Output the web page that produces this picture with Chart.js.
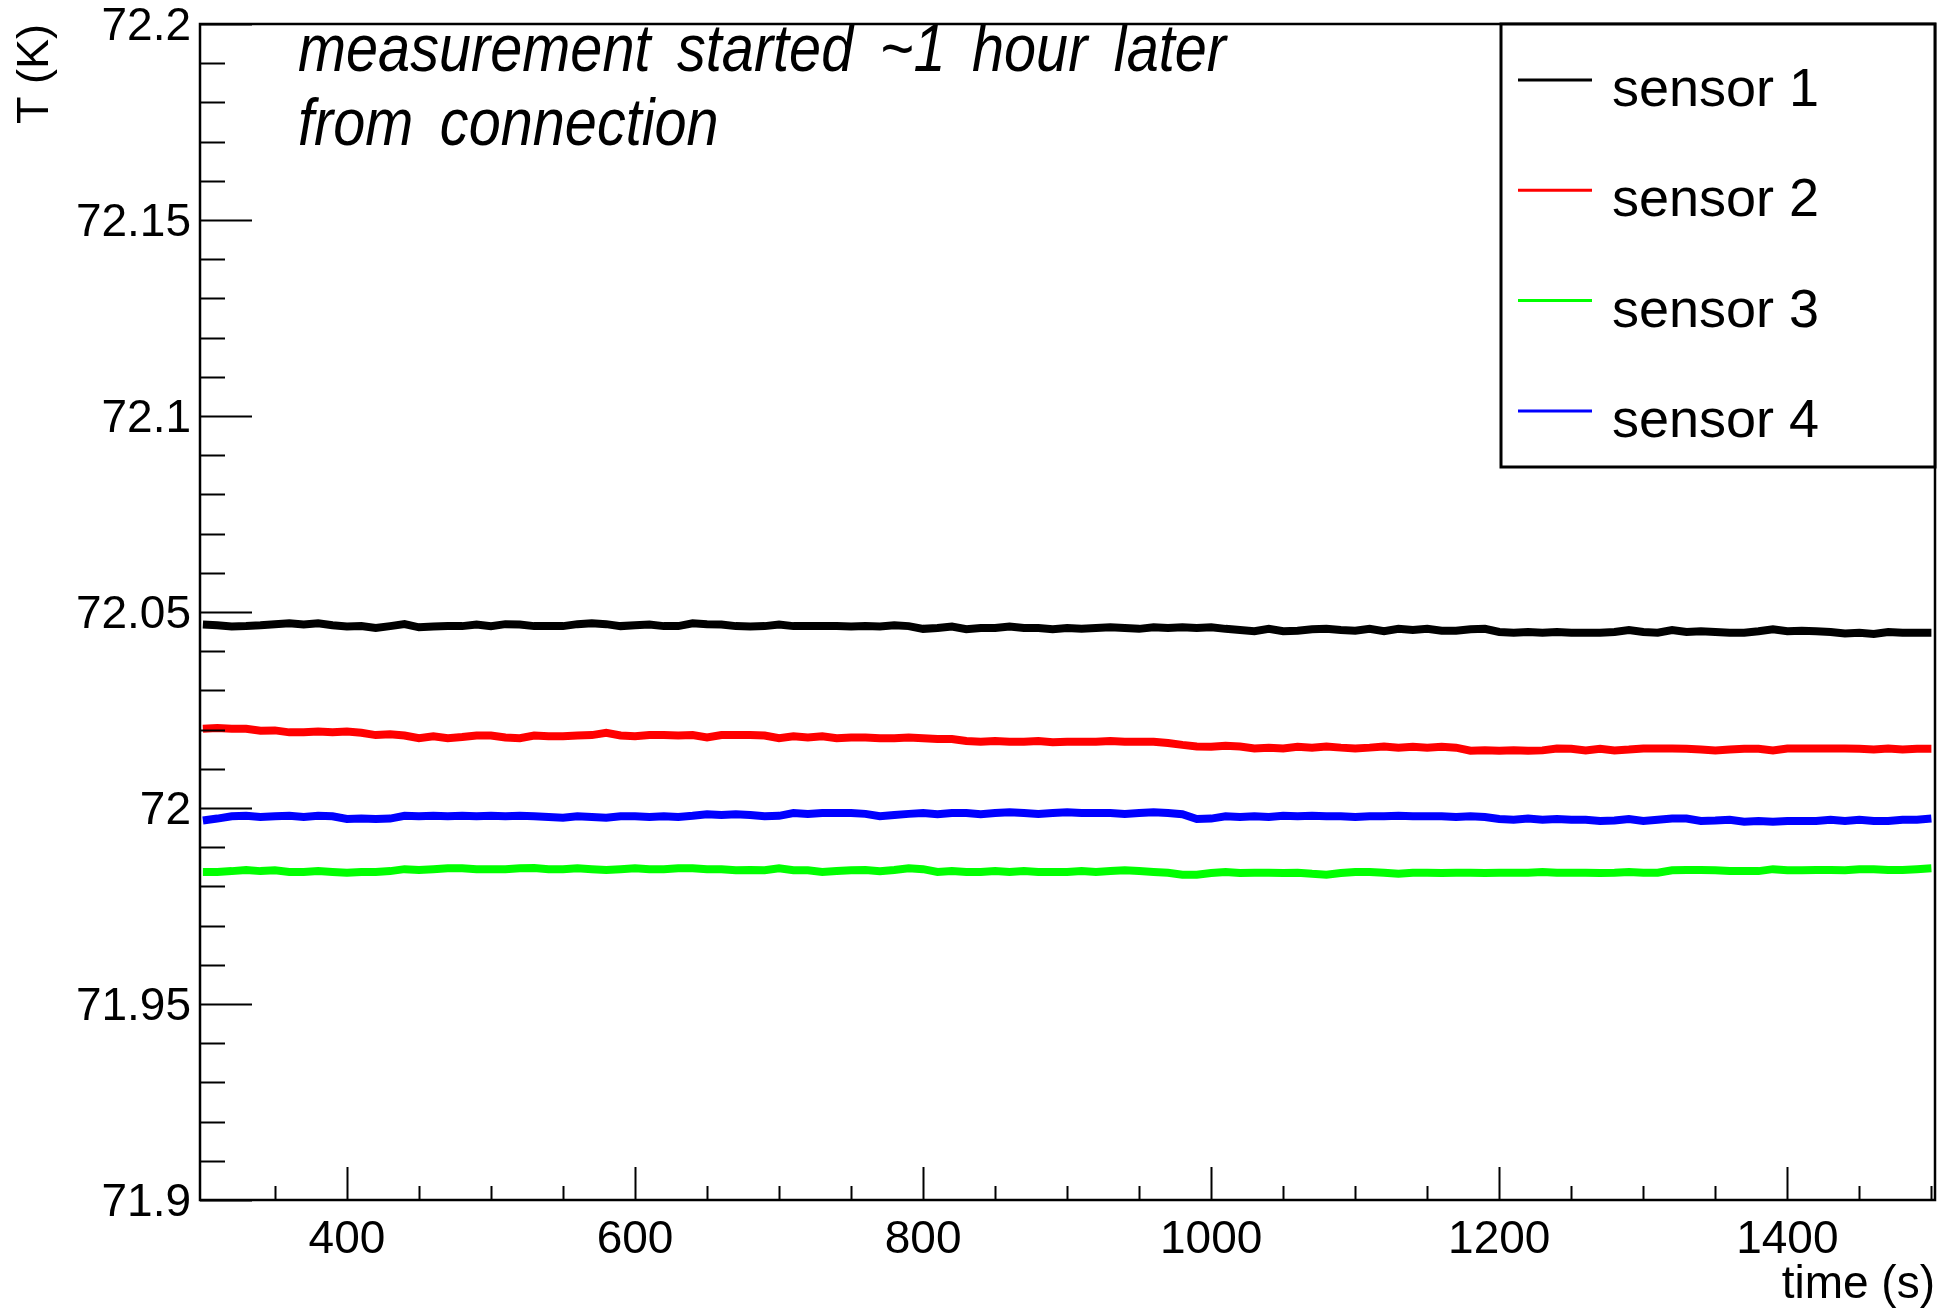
<!DOCTYPE html>
<html>
<head>
<meta charset="utf-8">
<script src="https://cdn.jsdelivr.net/npm/chart.js@4.4.1/dist/chart.umd.min.js"></script>
<style>
html,body{margin:0;padding:0;background:#ffffff;}
#wrap{width:1950px;height:1308px;position:relative;background:#ffffff;}
</style>
</head>
<body>
<div id="wrap"><canvas id="c" width="1950" height="1308"></canvas></div>
<script>
// ---- data ----
const times = [300,310,320,330,340,350,360,370,380,390,400,410,420,430,440,450,460,470,480,490,500,510,520,530,
540,550,560,570,580,590,600,610,620,630,640,650,660,670,680,690,700,710,720,730,740,750,760,770,
780,790,800,810,820,830,840,850,860,870,880,890,900,910,920,930,940,950,960,970,980,990,1000,1010,
1020,1030,1040,1050,1060,1070,1080,1090,1100,1110,1120,1130,1140,1150,1160,1170,1180,1190,1200,1210,1220,1230,1240,1250,
1260,1270,1280,1290,1300,1310,1320,1330,1340,1350,1360,1370,1380,1390,1400,1410,1420,1430,1440,1450,1460,1470,1480,1490,1500];

const sensor1 = [72.0468,72.0466,72.0463,72.0464,72.0466,72.0469,72.0471,72.0468,72.0471,72.0466,72.0463,72.0464,72.0459,72.0464,72.0469,72.0461,72.0463,72.0464,72.0464,72.0468,72.0464,72.0469,72.0468,72.0464,
72.0464,72.0464,72.0469,72.0471,72.0469,72.0464,72.0466,72.0468,72.0464,72.0464,72.0471,72.0469,72.0468,72.0464,72.0463,72.0464,72.0468,72.0464,72.0464,72.0464,72.0464,72.0463,72.0464,72.0463,
72.0466,72.0464,72.0457,72.0459,72.0463,72.0456,72.0459,72.0459,72.0463,72.0459,72.0459,72.0456,72.0459,72.0457,72.0459,72.0461,72.0459,72.0457,72.0461,72.0459,72.0461,72.0459,72.0461,72.0457,
72.0454,72.0451,72.0457,72.0451,72.0452,72.0456,72.0457,72.0454,72.0452,72.0457,72.0451,72.0457,72.0454,72.0457,72.0452,72.0452,72.0456,72.0457,72.0449,72.0447,72.0449,72.0447,72.0449,72.0447,
72.0447,72.0447,72.0449,72.0454,72.0449,72.0447,72.0454,72.0449,72.0451,72.0449,72.0447,72.0447,72.0451,72.0456,72.0451,72.0452,72.0451,72.0449,72.0445,72.0447,72.0444,72.0449,72.0447,72.0447,72.0447];

const sensor2 = [72.0202,72.0204,72.0202,72.0202,72.0197,72.0198,72.0193,72.0193,72.0195,72.0193,72.0195,72.0192,72.0186,72.0188,72.0185,72.0178,72.0183,72.0178,72.0181,72.0185,72.0185,72.0180,72.0178,72.0185,
72.0183,72.0183,72.0185,72.0186,72.0192,72.0185,72.0183,72.0186,72.0186,72.0185,72.0186,72.0180,72.0186,72.0186,72.0186,72.0185,72.0178,72.0183,72.0180,72.0183,72.0178,72.0180,72.0180,72.0178,
72.0178,72.0180,72.0178,72.0176,72.0176,72.0171,72.0169,72.0171,72.0169,72.0169,72.0171,72.0168,72.0169,72.0169,72.0169,72.0171,72.0169,72.0169,72.0169,72.0166,72.0161,72.0157,72.0156,72.0159,
72.0157,72.0152,72.0154,72.0152,72.0156,72.0154,72.0157,72.0154,72.0152,72.0154,72.0157,72.0154,72.0156,72.0154,72.0156,72.0154,72.0146,72.0147,72.0146,72.0147,72.0146,72.0147,72.0152,72.0151,
72.0147,72.0151,72.0147,72.0149,72.0152,72.0152,72.0152,72.0151,72.0149,72.0147,72.0149,72.0151,72.0151,72.0147,72.0152,72.0152,72.0152,72.0152,72.0152,72.0151,72.0149,72.0152,72.0149,72.0151,72.0151];

const sensor3 = [71.9837,71.9837,71.9839,71.9842,71.9839,71.9841,71.9837,71.9837,71.9839,71.9837,71.9835,71.9837,71.9837,71.9839,71.9844,71.9842,71.9844,71.9846,71.9846,71.9844,71.9844,71.9844,71.9846,71.9847,
71.9844,71.9844,71.9846,71.9844,71.9842,71.9844,71.9846,71.9844,71.9844,71.9846,71.9846,71.9844,71.9844,71.9841,71.9842,71.9841,71.9846,71.9841,71.9841,71.9837,71.9839,71.9841,71.9842,71.9839,
71.9842,71.9846,71.9844,71.9837,71.9839,71.9837,71.9837,71.9839,71.9837,71.9839,71.9837,71.9837,71.9837,71.9839,71.9837,71.9839,71.9841,71.9839,71.9837,71.9835,71.9830,71.9830,71.9834,71.9837,
71.9834,71.9835,71.9835,71.9834,71.9835,71.9832,71.9830,71.9834,71.9837,71.9837,71.9835,71.9832,71.9835,71.9835,71.9834,71.9835,71.9835,71.9834,71.9835,71.9835,71.9835,71.9837,71.9835,71.9835,
71.9835,71.9834,71.9835,71.9837,71.9835,71.9835,71.9841,71.9842,71.9842,71.9841,71.9839,71.9839,71.9839,71.9844,71.9841,71.9841,71.9842,71.9842,71.9841,71.9844,71.9844,71.9842,71.9842,71.9844,71.9846];

const sensor4 = [71.9968,71.9973,71.9979,71.9980,71.9977,71.9979,71.9980,71.9977,71.9980,71.9979,71.9972,71.9973,71.9972,71.9973,71.9980,71.9979,71.9980,71.9979,71.9980,71.9979,71.9980,71.9979,71.9980,71.9979,
71.9977,71.9975,71.9979,71.9977,71.9975,71.9979,71.9979,71.9977,71.9979,71.9977,71.9980,71.9984,71.9982,71.9984,71.9982,71.9979,71.9980,71.9987,71.9985,71.9987,71.9987,71.9987,71.9985,71.9979,
71.9982,71.9985,71.9987,71.9984,71.9987,71.9987,71.9984,71.9987,71.9989,71.9987,71.9985,71.9987,71.9989,71.9987,71.9987,71.9987,71.9985,71.9987,71.9989,71.9987,71.9984,71.9972,71.9973,71.9979,
71.9977,71.9979,71.9977,71.9980,71.9979,71.9980,71.9979,71.9979,71.9977,71.9979,71.9979,71.9980,71.9979,71.9979,71.9979,71.9977,71.9979,71.9977,71.9972,71.9970,71.9973,71.9970,71.9972,71.9970,
71.9970,71.9967,71.9968,71.9972,71.9967,71.9970,71.9973,71.9973,71.9967,71.9968,71.9970,71.9965,71.9967,71.9965,71.9967,71.9967,71.9967,71.9970,71.9967,71.9970,71.9967,71.9967,71.9970,71.9970,71.9973];

const seriesNames  = ['sensor 1','sensor 2','sensor 3','sensor 4'];
const seriesColors = ['#000000','#ff0000','#00ff00','#0000ff'];
const seriesValues = [sensor1, sensor2, sensor3, sensor4];
const xTickValues = [400, 600, 800, 1000, 1200, 1400];
const yTickValues = [71.9, 71.95, 72, 72.05, 72.1, 72.15, 72.2];
const xTitle = 'time (s)';
const yTitle = 'T (K)';
const noteLines = ['measurement started ~1 hour later', 'from connection'];

// ---- chart ----
const FONT = '"Liberation Sans", Arial, Helvetica, sans-serif';

const datasets = seriesValues.map((vals, i) => ({
  label: seriesNames[i],
  data: times.map((t, k) => ({x: t, y: vals[k]})),
  borderColor: seriesColors[i],
  backgroundColor: seriesColors[i],
  borderWidth: 8,
  pointRadius: 0,
  tension: 0,
  fill: false
}));

const rootDecor = {
  id: 'rootDecor',
  afterDatasetsDraw(chart) {
    const {ctx, chartArea: a, scales} = chart;
    const xs = scales.x, ys = scales.y;
    ctx.save();
    ctx.strokeStyle = '#000';
    ctx.lineCap = 'butt';
    // y ticks (inside the frame)
    ctx.lineWidth = 2;
    for (let k = 0; k <= 30; k++) {
      const v = 71.9 + k * 0.01;
      const py = Math.round(ys.getPixelForValue(v)) + 0.5;
      const len = (k % 5 === 0) ? 52 : 25;
      ctx.beginPath(); ctx.moveTo(a.left, py); ctx.lineTo(a.left + len, py); ctx.stroke();
    }
    // x ticks (inside the frame)
    for (let v = 350; v <= 1500; v += 50) {
      const px = Math.round(xs.getPixelForValue(v)) + 0.5;
      const len = (v % 200 === 0) ? 33 : 14;
      ctx.beginPath(); ctx.moveTo(px, a.bottom); ctx.lineTo(px, a.bottom - len); ctx.stroke();
    }
    // frame
    ctx.lineWidth = 2.5;
    ctx.strokeRect(a.left, a.top, a.right - a.left, a.bottom - a.top);

    // legend box
    const lx0 = 1501, lx1 = a.right, ly0 = a.top, ly1 = 467;
    ctx.fillStyle = '#fff';
    ctx.fillRect(lx0, ly0, lx1 - lx0, ly1 - ly0);
    ctx.lineWidth = 3;
    ctx.strokeRect(lx0, ly0, lx1 - lx0, ly1 - ly0);
    ctx.font = '54px ' + FONT;
    ctx.textAlign = 'left';
    ctx.textBaseline = 'alphabetic';
    chart.data.datasets.forEach((ds, i) => {
      const yy = ly0 + 56 + i * 110.3;
      ctx.strokeStyle = ds.borderColor;
      ctx.lineWidth = 3;
      ctx.beginPath(); ctx.moveTo(1518, yy); ctx.lineTo(1592, yy); ctx.stroke();
      ctx.fillStyle = '#000';
      ctx.fillText(ds.label, 1612, yy + 26);
    });

    // italic note
    ctx.font = 'italic 66px ' + FONT;
    try { ctx.wordSpacing = '12px'; } catch (e) {}
    const w0 = ctx.measureText(noteLines[0]).width;
    const sx = 928 / w0;
    ctx.fillStyle = '#000';
    ctx.translate(298, 0);
    ctx.scale(sx, 1);
    ctx.fillText(noteLines[0], 0, 71);
    ctx.fillText(noteLines[1], 0, 145);
    ctx.restore();
  }
};

function fmtTick(v) { return String(parseFloat(Number(v).toFixed(3))); }

new Chart(document.getElementById('c'), {
  type: 'line',
  data: { datasets },
  plugins: [rootDecor],
  options: {
    responsive: false,
    animation: false,
    devicePixelRatio: 1,
    layout: { padding: { left: 0, top: 24, right: 15, bottom: 0 } },
    plugins: { legend: { display: false }, tooltip: { enabled: false }, title: { display: false } },
    scales: {
      x: {
        type: 'linear', min: 298, max: 1502.5,
        grid: { display: false, drawTicks: false },
        border: { display: false },
        ticks: { autoSkip: false, maxRotation: 0, minRotation: 0,
                 padding: 13, color: '#000', font: { family: FONT, size: 46 }, callback: fmtTick },
        title: { display: true, text: xTitle, align: 'end', color: '#000',
                 font: { family: FONT, size: 46 }, padding: { top: 0, bottom: -5 } },
        afterBuildTicks(s) { s.ticks = xTickValues.map(v => ({ value: v })); },
        afterFit(s) { s.height = 108; s.paddingLeft = 0; s.paddingRight = 0; }
      },
      y: {
        type: 'linear', min: 71.9, max: 72.2,
        grid: { display: false, drawTicks: false },
        border: { display: false },
        ticks: { autoSkip: false, padding: 9, labelOffset: 3, color: '#000',
                 font: { family: FONT, size: 46 }, callback: fmtTick },
        title: { display: true, text: yTitle, align: 'end', color: '#000',
                 font: { family: FONT, size: 45 }, padding: { top: 9, bottom: 0 } },
        afterBuildTicks(s) { s.ticks = yTickValues.map(v => ({ value: v })); },
        afterFit(s) { s.width = 200; s.paddingTop = 0; s.paddingBottom = 0; }
      }
    }
  }
});
</script>
</body>
</html>
